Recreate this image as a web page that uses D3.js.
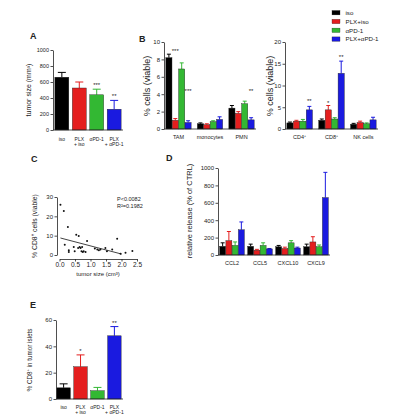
<!DOCTYPE html>
<html>
<head>
<meta charset="utf-8">
<script src="https://cdn.jsdelivr.net/npm/d3@7"></script>
<style>
  body { margin: 0; background: #fff; }
  svg { display: block; }
  text { font-family: "Liberation Sans", Arial, sans-serif; fill: #222; }
</style>
</head>
<body>
<div id="figure"></div>
<script>
// ---- data ----
const treatments = ["iso", "PLX+iso", "αPD-1", "PLX+αPD-1"];
const treatmentTicks = [["iso"], ["PLX", "+ iso"], ["αPD-1"], ["PLX", "+ αPD-1"]];

// A: tumor size (mm3)
const tumorSize = [660, 525, 440, 260];
const tumorSizeSem = [60, 75, 70, 110];
const tumorStars = ["", "", "***", "**"];
const tumorTicks = [0, 200, 400, 600, 800, 1000];

// B left: myeloid cells, rows = categories, cols = treatments
const myeloidCats = ["TAM", "monocytes", "PMN"];
const myeloidVals = [[8.2, 1.0, 6.9, 0.75], [0.6, 0.5, 0.85, 1.1], [2.4, 1.8, 2.9, 1.05]];
const myeloidSem = [[0.4, 0.2, 0.7, 0.2], [0.1, 0.1, 0.1, 0.3], [0.3, 0.2, 0.3, 0.25]];
const myeloidStars = [[0, 1, 8.7, "***"], [0, 3, 4.1, "***"], [2, 3, 4.1, "**"]]; // [cat, series, y, text]
const myeloidTicks = [0, 2, 4, 6, 8, 10];

// B right: lymphoid cells
const lymphCats = [["CD4", "+"], ["CD8", "+"], ["NK cells", ""]];
const lymphVals = [[1.4, 1.8, 1.8, 4.4], [2.0, 4.4, 2.3, 12.8], [1.1, 1.5, 1.2, 2.1]];
const lymphSem = [[0.2, 0.2, 0.4, 0.8], [0.3, 1.0, 0.3, 2.8], [0.2, 0.3, 0.2, 0.6]];
const lymphStars = [[0, 3, 6.0, "**"], [1, 1, 5.6, "*"], [1, 3, 16.2, "**"]];
const lymphTicks = [0, 5, 10, 15, 20];

// C: CD8 vs tumor size
const scatterPts = [
  [0.03, 26], [0.14, 22.8], [0.27, 14.5], [0.17, 5.3], [0.54, 10.5], [0.62, 9.8],
  [0.89, 7.2], [0.3, 2.4], [0.3, 1.6], [0.46, 4.1], [0.49, 1.9], [0.6, 3.6],
  [0.65, 4.1], [0.68, 3.6], [0.71, 1.9], [0.75, 1.6], [0.78, 1.9], [0.84, 1.6],
  [0.73, 4.1], [1.14, 3.3], [1.22, 2.9], [1.27, 2.4], [1.32, 2.9], [1.48, 3.6],
  [1.53, 1.9], [1.7, 2.9], [1.86, 8.4], [2.13, 1.2], [1.97, 0.7], [2.35, 2.1]
];
const fitLine = [[0.03, 8.8], [2.0, 0.5]];
const scatterXTicks = [0, 0.5, 1.0, 1.5, 2.0, 2.5];
const scatterYTicks = [0, 10, 20, 30];
const scatterStats = ["P<0.0082", "R²=0.1982"];

// D: chemokine release (% of CTRL)
const chemoCats = ["CCL2", "CCL5", "CXCL10", "CXCL9"];
const chemoVals = [[100, 165, 110, 290], [100, 55, 110, 70], [95, 75, 140, 80], [95, 150, 95, 660]];
const chemoSem = [[40, 105, 40, 90], [25, 10, 30, 5], [15, 15, 25, 10], [30, 60, 20, 290]];
const chemoTicks = [0, 200, 400, 600, 800, 1000];

// E: CD8 in tumor islets
const isletCD8 = [8.5, 24.5, 6.3, 48];
const isletCD8Sem = [3, 9, 2.5, 7];
const isletStars = ["", "*", "", "**"];
const isletTicks = [0, 20, 40, 60];

// ---- styles ----
const colors = ["#000000", "#e41e1e", "#33b833", "#1a1ae0"];
const axisColor = "#222";

const svg = d3.select("#figure").append("svg")
  .attr("width", 396)
  .attr("height", 419);

/*
Label with an optional superscript part: parts = [[text, isSup], ...]
*/
function richText(sel, parts, size) {
  let shift = 0;
  parts.forEach(([t, sup]) => {
    if (!t) return;
    let target = sup ? -size * 0.4 : 0;
    sel.append("tspan")
      .attr("font-size", sup ? size * 0.65 : size)
      .attr("dy", target - shift)
      .text(t);
    shift = target;
  });
  return sel;
}

function yLabel(x, y, parts, size) {
  let t = svg.append("text")
    .attr("transform", `translate(${x},${y}) rotate(-90)`)
    .attr("text-anchor", "middle");
  richText(t, parts, size);
}

function panelLetter(x, y, s) {
  svg.append("text").attr("x", x).attr("y", y)
    .attr("font-size", 9).attr("font-weight", "bold").attr("fill", "#111").text(s);
}

function drawYAxis(x, y, ticks, size) {
  let g = svg.append("g").attr("transform", `translate(${x},0)`)
    .call(d3.axisLeft(y).tickValues(ticks).tickFormat(d3.format("d"))
      .tickSize(2.5).tickSizeOuter(0).tickPadding(1.5));
  g.selectAll("path, line").attr("stroke", axisColor).attr("stroke-width", 0.8);
  g.selectAll("text").attr("font-size", size).attr("font-family", null).attr("fill", "#333");
  return g;
}

function errorBar(g, cx, y0, y1, cap, color) {
  g.append("line").attr("x1", cx).attr("x2", cx).attr("y1", y0).attr("y2", y1)
    .attr("stroke", color).attr("stroke-width", 1);
  g.append("line").attr("x1", cx - cap / 2).attr("x2", cx + cap / 2).attr("y1", y1).attr("y2", y1)
    .attr("stroke", color).attr("stroke-width", 1);
}

/*
Single bar per treatment (panels A and E).
*/
function simpleBars(vals, sems, stars, y, x0, x1, axisX, labelY) {
  let x = d3.scaleBand().domain(treatments).range([x0, x1]).paddingInner(0.2).paddingOuter(0.05);
  let g = svg.append("g");
  treatments.forEach((t, i) => {
    let cx = x(t) + x.bandwidth() / 2;
    errorBar(g, cx, y(vals[i]), y(vals[i] + sems[i]), 8, colors[i]);
    g.append("rect")
      .attr("x", x(t)).attr("y", y(vals[i]))
      .attr("width", x.bandwidth()).attr("height", y(0) - y(vals[i]))
      .attr("fill", colors[i]).attr("stroke", "#222").attr("stroke-width", 0.4);
    if (stars[i]) {
      g.append("text").attr("x", cx).attr("y", y(vals[i] + sems[i]) - 2)
        .attr("text-anchor", "middle").attr("font-size", 6).text(stars[i]);
    }
    treatmentTicks[i].forEach((line, k) => {
      g.append("text").attr("x", cx).attr("y", labelY + k * 5)
        .attr("text-anchor", "middle").attr("font-size", 5).attr("fill", "#333").text(line);
    });
  });
  g.append("line").attr("x1", axisX).attr("x2", x1 + 1).attr("y1", y(0)).attr("y2", y(0))
    .attr("stroke", axisColor).attr("stroke-width", 0.8);
}

/*
Grouped bars: one group per category, one bar per treatment.
*/
function groupedBars(cats, vals, sems, stars, y, x0, x1, padIn, labelY, catLabel) {
  let x = d3.scaleBand().domain(d3.range(cats.length)).range([x0, x1]).paddingInner(padIn).paddingOuter(0.05);
  let xs = d3.scaleBand().domain(d3.range(treatments.length)).range([0, x.bandwidth()]).padding(0.04);
  let g = svg.append("g");
  cats.forEach((c, ci) => {
    treatments.forEach((t, si) => {
      let bx = x(ci) + xs(si);
      let cx = bx + xs.bandwidth() / 2;
      errorBar(g, cx, y(vals[ci][si]), y(vals[ci][si] + sems[ci][si]), 4, colors[si]);
      g.append("rect")
        .attr("x", bx).attr("y", y(vals[ci][si]))
        .attr("width", xs.bandwidth()).attr("height", y(0) - y(vals[ci][si]))
        .attr("fill", colors[si]).attr("stroke", "#222").attr("stroke-width", 0.4);
    });
    let lab = g.append("text").attr("x", x(ci) + x.bandwidth() / 2).attr("y", labelY)
      .attr("text-anchor", "middle").attr("fill", "#333");
    richText(lab, catLabel(c), 5.5);
  });
  stars.forEach(([ci, si, v, s]) => {
    g.append("text").attr("x", x(ci) + xs(si) + xs.bandwidth() / 2).attr("y", y(v))
      .attr("text-anchor", "middle").attr("font-size", 6).text(s);
  });
  g.append("line").attr("x1", x0).attr("x2", x1).attr("y1", y(0)).attr("y2", y(0))
    .attr("stroke", axisColor).attr("stroke-width", 0.8);
}

// ---- panel A ----
panelLetter(30, 39, "A");
let yA = d3.scaleLinear().domain([0, 1000]).range([130, 50]);
simpleBars(tumorSize, tumorSizeSem, tumorStars, yA, 54, 122, 53, 140.5);
drawYAxis(53, yA, tumorTicks, 5.5);
yLabel(31, 90, [["tumor size (mm³)", false]], 7);

// ---- panel B ----
panelLetter(139, 42, "B");
let yB1 = d3.scaleLinear().domain([0, 10]).range([129, 42]);
groupedBars(myeloidCats, myeloidVals, myeloidSem, myeloidStars, yB1, 164, 256, 0.18, 139, c => [[c, false]]);
drawYAxis(164, yB1, myeloidTicks, 6);
yLabel(150, 86, [["% cells (viable)", false]], 9);

let yB2 = d3.scaleLinear().domain([0, 20]).range([129, 42]);
groupedBars(lymphCats, lymphVals, lymphSem, lymphStars, yB2, 285, 378, 0.18, 139, c => [[c[0], false], [c[1], true]]);
drawYAxis(285, yB2, lymphTicks, 6);
yLabel(273, 86, [["% cells (viable)", false]], 9);

// legend
let legend = svg.append("g");
treatments.forEach((t, i) => {
  let cy = 12.7 + i * 8.8;
  legend.append("rect").attr("x", 332).attr("y", cy - 2.2).attr("width", 8).attr("height", 4.4)
    .attr("fill", colors[i]).attr("stroke", "#222").attr("stroke-width", 0.3);
  legend.append("text").attr("x", 345.5).attr("y", cy + 2.2).attr("font-size", 6.2)
    .attr("fill", "#333").text(t);
});

// ---- panel C ----
panelLetter(31, 162, "C");
let xC = d3.scaleLinear().domain([0, 2.5]).range([59.5, 137]);
let yC = d3.scaleLinear().domain([0, 30]).range([255, 197]);
drawYAxis(57, yC, scatterYTicks, 6);
let gx = svg.append("g").attr("transform", "translate(0,259)")
  .call(d3.axisBottom(xC).tickValues(scatterXTicks).tickFormat(d3.format(".1f"))
    .tickSize(2.5).tickSizeOuter(0).tickPadding(1));
gx.selectAll("path, line").attr("stroke", axisColor).attr("stroke-width", 0.8);
gx.selectAll("text").attr("font-size", 6.5).attr("font-family", null).attr("fill", "#333");

svg.append("g").selectAll("circle").data(scatterPts).enter().append("circle")
  .attr("cx", d => xC(d[0])).attr("cy", d => yC(d[1])).attr("r", 1)
  .attr("fill", "#111");
svg.append("line")
  .attr("x1", xC(fitLine[0][0])).attr("y1", yC(fitLine[0][1]))
  .attr("x2", xC(fitLine[1][0])).attr("y2", yC(fitLine[1][1]))
  .attr("stroke", "#111").attr("stroke-width", 0.8);
scatterStats.forEach((s, i) => {
  svg.append("text").attr("x", 117).attr("y", 201 + i * 7).attr("font-size", 5.5)
    .attr("fill", "#333").text(s);
});
svg.append("text").attr("x", 98).attr("y", 276).attr("text-anchor", "middle")
  .attr("font-size", 6).attr("fill", "#333").text("tumor size (cm³)");
yLabel(37, 226, [["% CD8", false], ["+", true], [" cells (viable)", false]], 6.8);

// ---- panel D ----
panelLetter(166, 161, "D");
let yD = d3.scaleLinear().domain([0, 1000]).range([255, 168]);
groupedBars(chemoCats, chemoVals, chemoSem, [], yD, 218, 330, 0.1, 265, c => [[c, false]]);
drawYAxis(218, yD, chemoTicks, 6);
yLabel(192, 211, [["relative release (% of CTRL)", false]], 7.5);

// ---- panel E ----
panelLetter(30, 308, "E");
let yE = d3.scaleLinear().domain([0, 60]).range([399, 320]);
simpleBars(isletCD8, isletCD8Sem, isletStars, yE, 56, 122, 56, 408.5);
drawYAxis(56, yE, isletTicks, 6);
yLabel(32, 360, [["% CD8", false], ["+", true], [" in tumor islets", false]], 6.3);
</script>
</body>
</html>
